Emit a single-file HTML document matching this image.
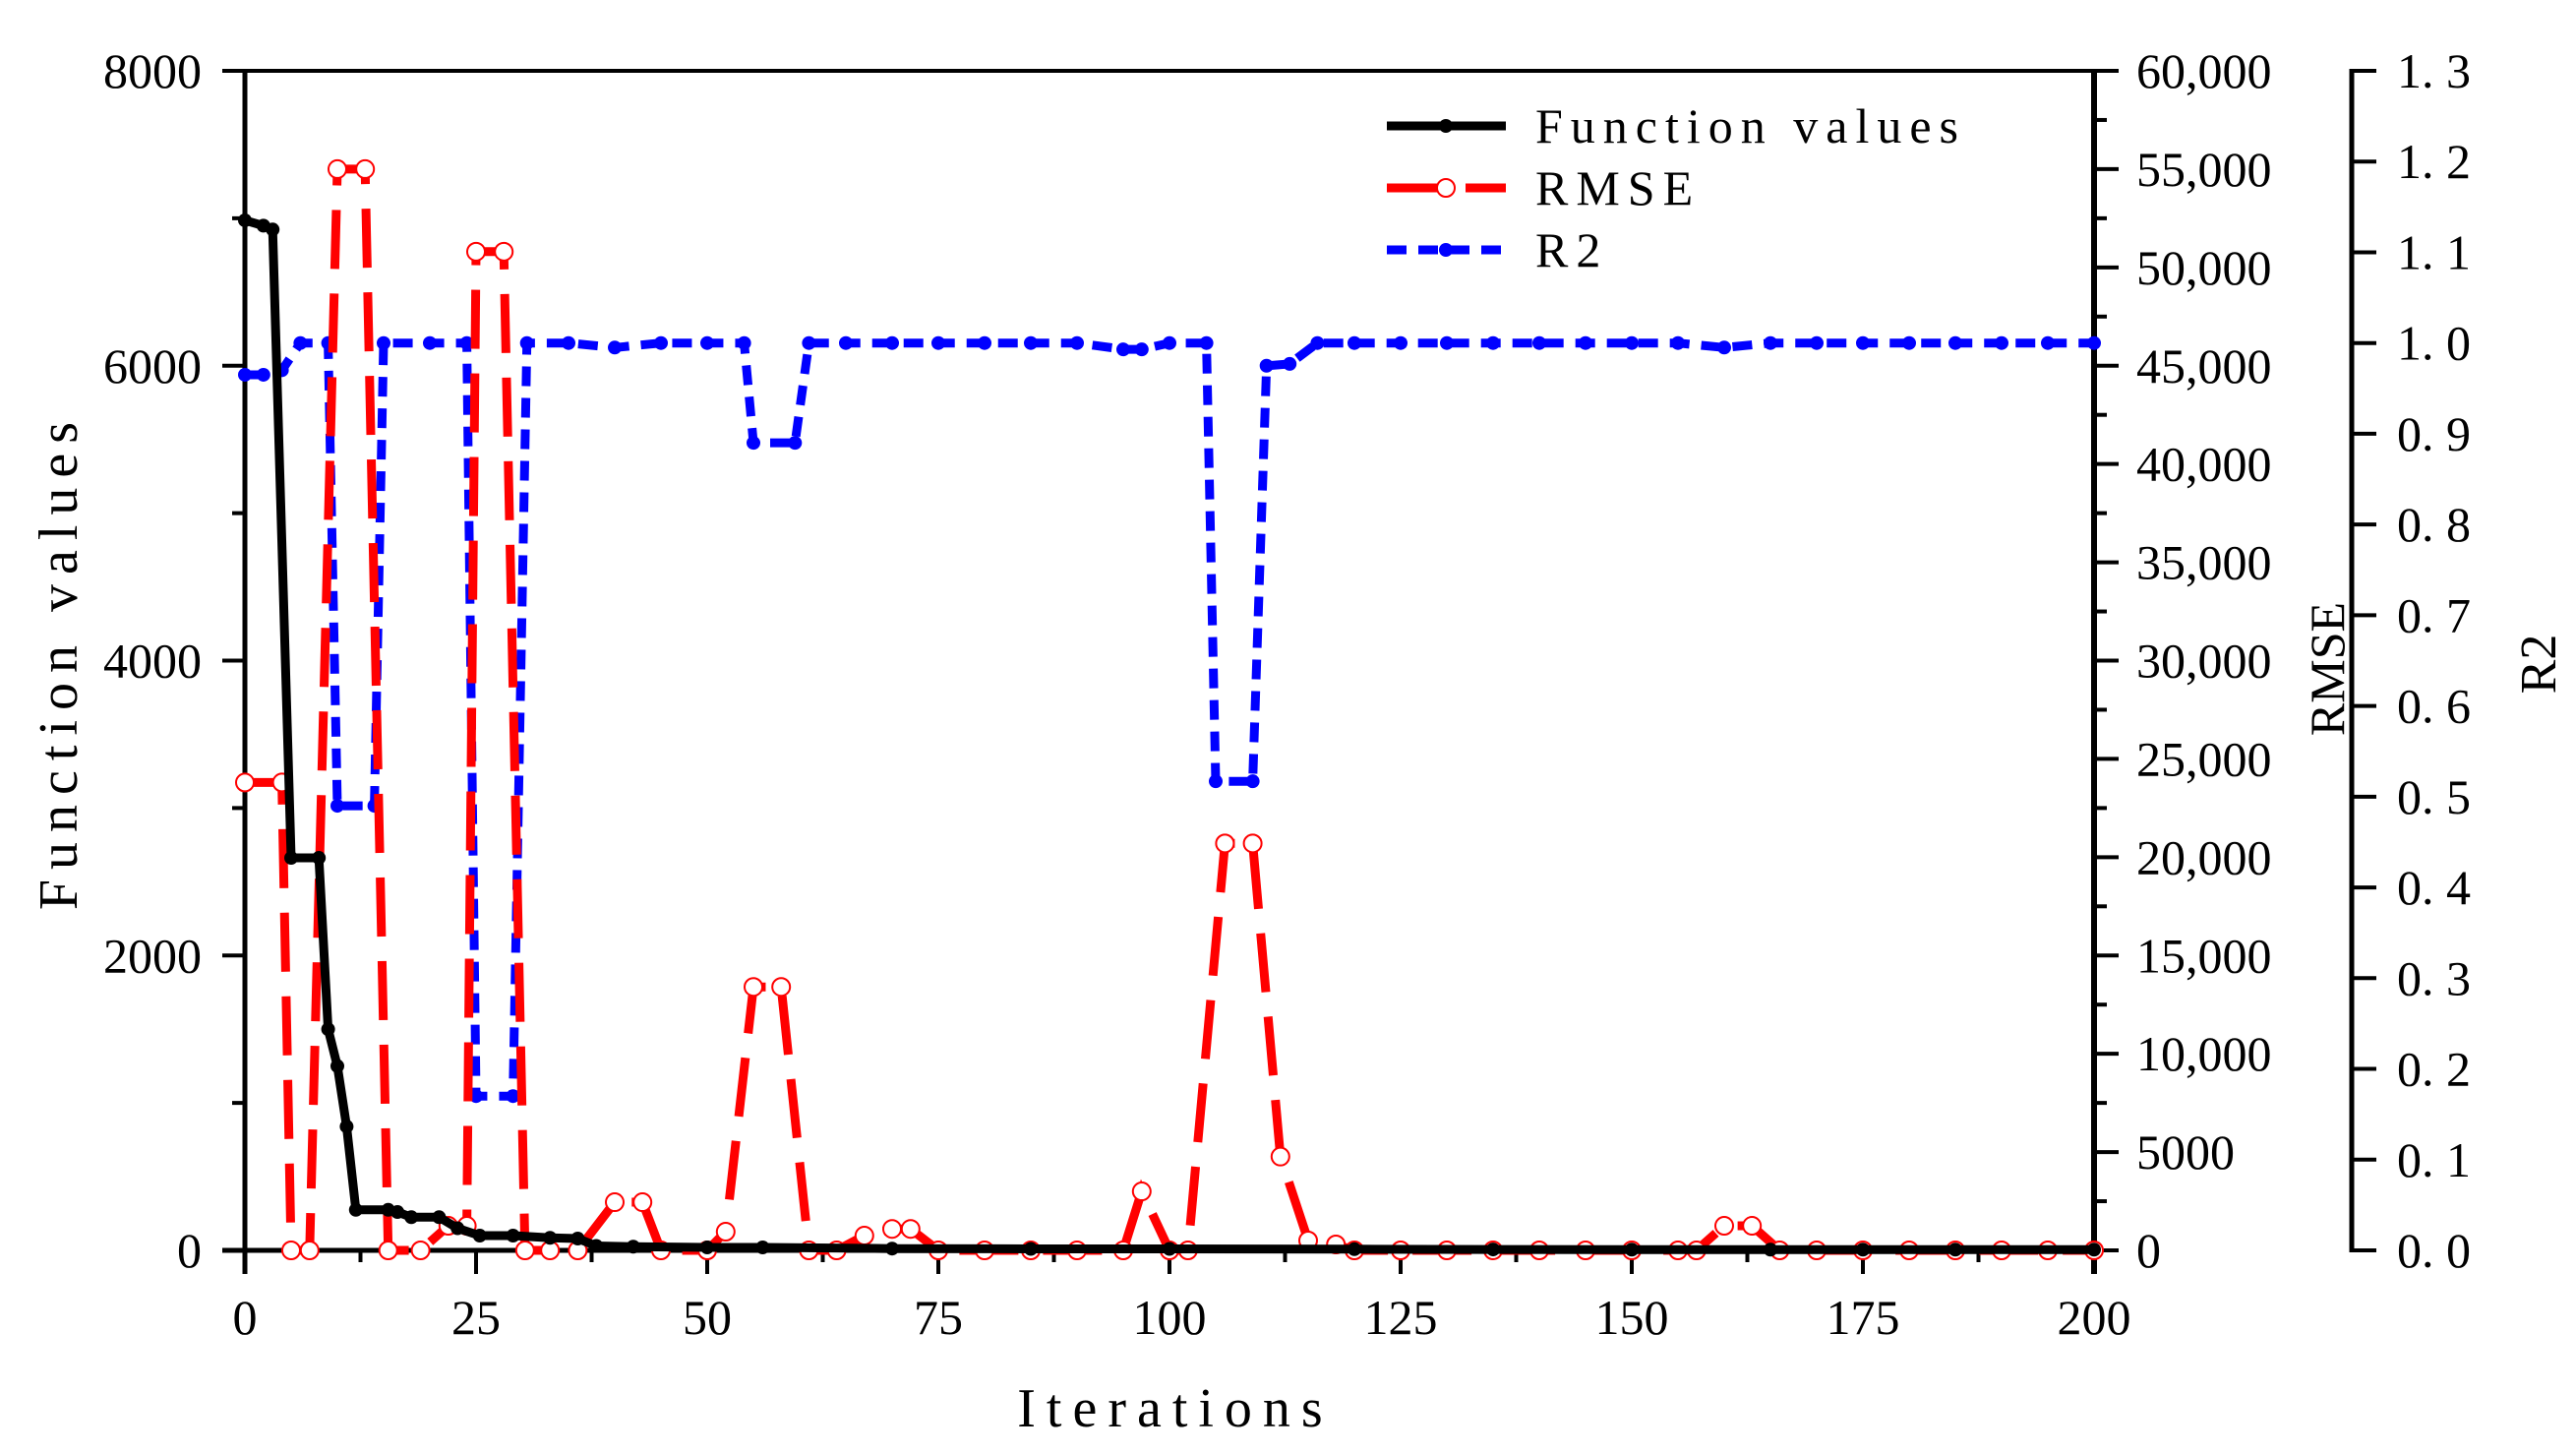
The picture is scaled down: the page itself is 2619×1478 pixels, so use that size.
<!DOCTYPE html>
<html><head><meta charset="utf-8"><style>
html,body{margin:0;padding:0;background:#fff;}
svg{display:block;font-family:"Liberation Serif","Noto Serif CJK SC",serif;}
</style></head><body>
<svg id="chart" width="2619" height="1478" viewBox="0 0 2619 1478" xmlns="http://www.w3.org/2000/svg">
<g id="axes"></g>
<g id="series"></g>
<g id="legend"></g>
</svg>
<script>
// ---- data ----
const fvIter = [0,2,3,5,8,9,10,11,12,15.5,16.5,18,21,23,25.4,29,33,36,38,42,50,56,70,85,100,120,135,150,165,175,185,200];
const fvVals = [6986,6950,6924,2662,2662,1500,1250,840,275,275,260,225,225,150,100,100,85,80,30,25,20,20,12,10,10,8,6,5,5,5,5,5];
const rmseIter = [0,4,5,7,10,13,15.5,19,22,24,25,28,30.3,33,36,40,43,45,50,52,55,58,61,64,67,70,72,75,80,85,90,95,97,100,102,106,109,112,115,118,120,125,130,135,140,145,150,155,157,160,163,166,170,175,180,185,190,195,200];
const rmseVals = [23800,23800,0,0,55000,55000,0,0,1250,1250,50800,50800,0,0,0,2450,2450,0,0,950,13400,13400,0,0,750,1090,1090,0,0,0,0,0,3000,0,0,20700,20700,4770,500,300,0,0,0,0,0,0,0,0,0,1250,1250,0,0,0,0,0,0,0,0];
const r2Iter = [0,2,4,6,9,10,14,15,20,24,25,29,30.5,35,40,45,50,54,55,59.5,61,65,70,75,80,85,90,95,97,100,104,105,109,110.5,113,116,120,125,130,135,140,145,150,155,160,165,170,175,180,185,190,195,200];
const r2Vals = [0.965,0.965,0.97,1.0,1.0,0.49,0.49,1.0,1.0,1.0,0.17,0.17,1.0,1.0,0.995,1.0,1.0,1.0,0.89,0.89,1.0,1.0,1.0,1.0,1.0,1.0,1.0,0.993,0.993,1.0,1.0,0.517,0.517,0.975,0.977,1.0,1.0,1.0,1.0,1.0,1.0,1.0,1.0,1.0,0.995,1.0,1.0,1.0,1.0,1.0,1.0,1.0,1.0];
const xTicks = [0,25,50,75,100,125,150,175,200];
const leftTicks = [0,2000,4000,6000,8000];
const rmseTicks = [0,5000,10000,15000,20000,25000,30000,35000,40000,45000,50000,55000,60000];
const rmseTickLabels = ["0","5000","10,000","15,000","20,000","25,000","30,000","35,000","40,000","45,000","50,000","55,000","60,000"];
const r2Ticks = [0,0.1,0.2,0.3,0.4,0.5,0.6,0.7,0.8,0.9,1.0,1.1,1.2,1.3];

// ---- geometry ----
const X0=249,X1=2129,Y0=1271,Y1=72,RX=2391;
const sx=v=>X0+(v/200)*(X1-X0);
const syL=v=>Y0-(v/8000)*(Y0-Y1);
const syR=v=>Y0-(v/60000)*(Y0-Y1);
const sy2=v=>Y0-(v/1.3)*(Y0-Y1);
const NS="http://www.w3.org/2000/svg";
function mk(tag,attrs,parent){const e=document.createElementNS(NS,tag);for(const k in attrs)e.setAttribute(k,attrs[k]);parent.appendChild(e);return e;}
const ax=document.getElementById('axes');
const se=document.getElementById('series');
const lg=document.getElementById('legend');
const ln=(x1,y1,x2,y2,w,p)=>mk('line',{x1,y1,x2,y2,stroke:'#000','stroke-width':w},p);
const tx=(x,y,s,sz,anchor,p)=>{const t=mk('text',{x,y,'font-size':sz,'text-anchor':anchor,fill:'#000'},p);t.textContent=s;return t;};

let e;
e=ln(X0,Y1-2,X0,Y0+24,5,ax);


e=ln(X0-23,Y0,X1,Y0,5,ax);


e=ln(X0-23,Y1,X1+2,Y1,4,ax);


e=ln(X1,Y1,X1,Y0+24,6,ax);


e=ln(RX,Y1-2,RX,Y0+2,5,ax);



xTicks.forEach(v=>{
  ln(sx(v),Y0,sx(v),Y0+24,4,ax);
  e=tx(sx(v),Y0+85,String(v),50,'middle',ax);
  
  
});
for(let v=12.5;v<200;v+=25){ln(sx(v),Y0,sx(v),Y0+12,4,ax);}
leftTicks.forEach(v=>{
  ln(X0-23,syL(v),X0,syL(v),4,ax);
  e=tx(205,syL(v)+17,String(v),50,'end',ax);
  
  
});
for(let v=1000;v<8000;v+=2000){ln(X0-13,syL(v),X0,syL(v),4,ax);}
rmseTicks.forEach((v,i)=>{
  ln(X1,syR(v),X1+25,syR(v),4,ax);
  e=tx(2172,syR(v)+17,rmseTickLabels[i],50,'start',ax);
  
  
});
for(let v=2500;v<60000;v+=5000){ln(X1,syR(v),X1+13,syR(v),4,ax);}
r2Ticks.forEach(v=>{
  ln(RX,sy2(v),RX+25,sy2(v),4,ax);
  e=tx(2437,sy2(v)+17,v.toFixed(1).replace('.','. '),50,'start',ax);
  
  
});

e=tx(0,0,'Function values',56,'middle',ax);
e.setAttribute('transform','translate(78,672) rotate(-90)');
e.setAttribute('letter-spacing','10');


e=tx(1195,1450,'Iterations',56,'middle',ax);
e.setAttribute('letter-spacing','11');


e=tx(0,0,'RMSE',50,'middle',ax);
e.setAttribute('transform','translate(2383,680) rotate(-90)');


e=tx(0,0,'R2',52,'middle',ax);
e.setAttribute('transform','translate(2598,675) rotate(-90)');



function pts(xs,ys,fy){return xs.map((x,i)=>sx(x).toFixed(1)+','+fy(ys[i]).toFixed(1)).join(' ');}
e=mk('polyline',{points:pts(r2Iter,r2Vals,sy2),fill:'none',stroke:'#0000ff','stroke-width':9,'stroke-dasharray':'20 12'},se);


r2Iter.forEach((x,i)=>{
  const c=mk('circle',{cx:sx(x),cy:sy2(r2Vals[i]),r:7,fill:'#0000ff'},se);
  
  
});
e=mk('polyline',{points:pts(rmseIter,rmseVals,syR),fill:'none',stroke:'#ff0000','stroke-width':9,'stroke-dasharray':'60 25'},se);


rmseIter.forEach((x,i)=>{
  const c=mk('circle',{cx:sx(x),cy:syR(rmseVals[i]),r:9,fill:'#fff',stroke:'#ff0000','stroke-width':2},se);
  
  
});
e=mk('polyline',{points:pts(fvIter,fvVals,syL),fill:'none',stroke:'#000','stroke-width':9},se);


fvIter.forEach((x,i)=>{
  const c=mk('circle',{cx:sx(x),cy:syL(fvVals[i]),r:7,fill:'#000'},se);
  
  
});

const legItems=[['Function values','#000',null,'fill'],['RMSE','#ff0000','55 25','open'],['R2','#0000ff','20 12','fill']];
legItems.forEach((it,i)=>{
  const y=128+i*63;
  const g=mk('g',{},lg);
  
  
  const l=mk('line',{x1:1410,y1:y,x2:1531,y2:y,stroke:it[1],'stroke-width':9},g);
  if(it[2]) l.setAttribute('stroke-dasharray',it[2]);
  if(it[3]==='open') mk('circle',{cx:1470,cy:y,r:9,fill:'#fff',stroke:it[1],'stroke-width':2},g);
  else mk('circle',{cx:1470,cy:y,r:7,fill:it[1]},g);
  const t=tx(1561,y+17,it[0],50,'start',g);
  t.setAttribute('letter-spacing','8');
});
</script>
</body></html>
